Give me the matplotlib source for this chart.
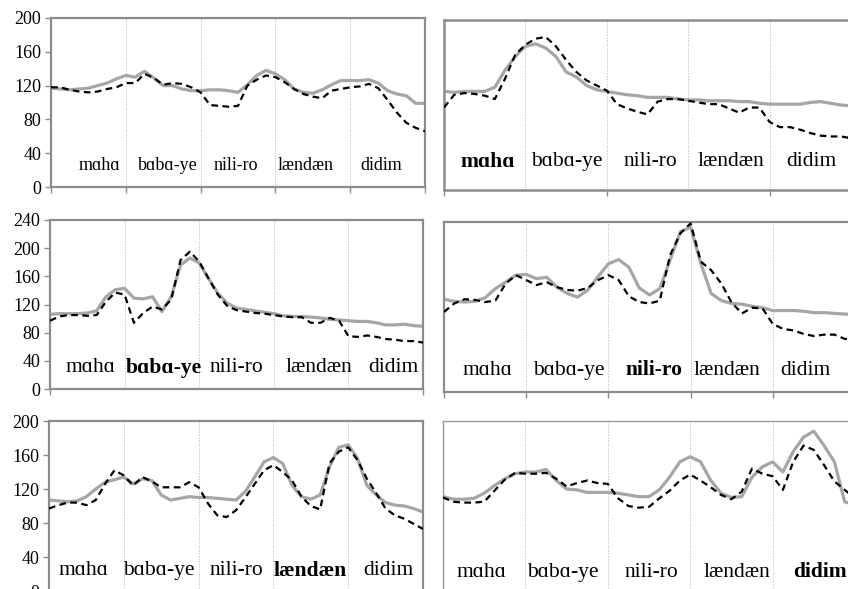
import numpy as np
import matplotlib
matplotlib.use("Agg")
import matplotlib.pyplot as plt

plt.rcParams['font.family'] = ['Liberation Serif', 'DejaVu Serif']

words = ["mɑhɑ", "bɑbɑ-ye", "nili-ro", "lændæn", "didim"]

# pitch contours, one sample every 1/8 of a word (41 samples per sentence)
base_gray = [117, 116, 115, 116, 117, 120, 123, 128, 132, 130, 137, 129, 120, 120, 116, 114, 114,
             115, 115, 114, 112, 121, 132, 138, 134, 127, 116, 112, 111, 115, 121, 126, 126, 126,
             127, 123, 114, 110, 108, 99, 99]
base_dash = [118, 118, 115, 113, 112, 113, 116, 118, 123, 123, 134, 129, 121, 123, 122, 118, 112,
             97, 96, 95, 96, 120, 127, 132, 130, 124, 116, 110, 107, 105, 114, 116, 118, 119, 122,
             117, 103, 88, 76, 70, 66]

maha_gray = [116, 115, 116, 116, 116, 121, 141, 157, 169, 172, 167, 157, 139, 133, 123, 118, 116,
             114, 112, 111, 109, 109, 109, 107, 106, 106, 105, 105, 105, 104, 104, 102, 101, 101,
             101, 101, 103, 104, 102, 100, 99]
maha_dash = [97, 112, 114, 113, 111, 107, 131, 159, 171, 178, 180, 169, 153, 139, 129, 123, 117,
             101, 96, 92, 89, 104, 107, 107, 105, 103, 101, 101, 96, 91, 97, 97, 80, 74, 74, 71,
             67, 64, 63, 63, 61]

baba_gray = [106, 107, 107, 107, 108, 111, 131, 141, 143, 129, 128, 131, 110, 131, 176, 186, 179,
             157, 136, 122, 115, 113, 111, 109, 107, 104, 103, 103, 102, 101, 99, 98, 97, 96, 96,
             94, 91, 91, 92, 90, 89]
baba_dash = [97, 103, 105, 105, 104, 105, 124, 137, 134, 94, 108, 117, 113, 127, 183, 195, 181,
             157, 134, 118, 112, 110, 108, 107, 105, 103, 102, 102, 94, 94, 101, 97, 75, 74, 76,
             74, 71, 70, 68, 68, 66]

nili_gray = [131, 128, 127, 128, 133, 146, 155, 165, 166, 160, 162, 148, 139, 134, 144, 163, 181,
             187, 176, 147, 137, 146, 186, 226, 233, 181, 139, 129, 125, 124, 121, 119, 115, 115,
             115, 114, 112, 112, 111, 110, 110]
nili_dash = [113, 125, 131, 130, 127, 129, 153, 165, 158, 151, 155, 148, 144, 143, 147, 158, 165,
             158, 135, 127, 125, 129, 193, 224, 238, 184, 172, 153, 126, 111, 119, 118, 96, 89, 87,
             82, 79, 81, 81, 75, 73]

lændæn_gray = [107, 106, 105, 106, 111, 120, 128, 131, 134, 126, 132, 130, 113, 107, 109, 111,
               110, 110, 109, 108, 107, 117, 134, 152, 157, 150, 124, 111, 108, 113, 146, 169,
               172, 156, 124, 113, 104, 101, 100, 97, 93]
lændæn_dash = [97, 101, 104, 104, 101, 107, 126, 142, 136, 124, 134, 129, 122, 122, 122, 128,
               122, 103, 89, 87, 95, 110, 126, 142, 148, 140, 130, 111, 100, 96, 150, 164, 169,
               154, 132, 115, 97, 89, 85, 79, 73]

didim_gray = [111, 108, 108, 109, 115, 124, 132, 138, 140, 140, 143, 130, 120, 119, 116, 116, 116,
              115, 113, 111, 111, 119, 134, 152, 158, 152, 130, 115, 110, 111, 134, 146, 152, 140,
              164, 181, 188, 171, 152, 105, 101]
didim_dash = [110, 105, 104, 104, 105, 118, 131, 139, 138, 138, 139, 132, 123, 127, 130, 127, 126,
              109, 100, 98, 99, 109, 118, 130, 137, 130, 122, 113, 108, 117, 144, 138, 135, 119,
              152, 171, 166, 148, 129, 119, 109]

W, H = 848, 589
fig = plt.figure(figsize=(W / 100, H / 100), dpi=100)

# (left, right, top, bottom) in pixels, ymax, focus word, label height, y ticks shown,
# x ticks, word centres, frame width
panels = [
    ((51, 425, 18, 187), 200, None, base_gray, base_dash, 26, True, [0, 1, 2, 3, 4, 5],
     [0.65, 1.56, 2.47, 3.40, 4.41], 1.6),
    ((444, 851, 20, 190), 200, 0, maha_gray, maha_dash, 33, False, [0, 2, 4],
     [0.54, 1.51, 2.54, 3.53, 4.51], 1.8),
    ((50, 423, 220, 389), 240, 1, baba_gray, baba_dash, 30, True, [0, 5],
     [0.54, 1.52, 2.50, 3.60, 4.60], 1.6),
    ((444, 855, 222, 392), 240, 2, nili_gray, nili_dash, 31, False, [0, 1, 2, 3, 4],
     [0.53, 1.52, 2.55, 3.44, 4.40], 1.6),
    ((49, 423, 421, 591), 200, 3, lændæn_gray, lændæn_dash, 24, True, [],
     [0.46, 1.47, 2.51, 3.49, 4.54], 1.6),
    ((443, 855, 421, 591), 200, 4, didim_gray, didim_dash, 22, False, [],
     [0.47, 1.45, 2.53, 3.57, 4.57], 1.0),
]

x = np.arange(41) / 8.0
for (l, r, t, b), ymax, focus, gray, dash, ly, yt, xt, cx, fw in panels:
    ax = fig.add_axes([l / W, 1 - b / H, (r - l) / W, (b - t) / H])
    ax.set_xlim(0, 5)
    ax.set_ylim(0, ymax)
    for xx in [1, 2, 3, 4]:
        ax.axvline(xx, color='#b4b4b4', lw=0.7, ls=':', zorder=1)
    ax.plot(x, gray, color='#a6a6a6', lw=2.3, zorder=2, solid_joinstyle='round')
    ax.plot(x, dash, color='black', lw=1.6, ls=(0, (3, 2)), zorder=3)
    fs = 13 if focus is None else 15.5
    for i, w in enumerate(words):
        ax.text(cx[i], ly, w, ha='center', va='center', fontsize=fs,
                fontweight='bold' if i == focus else 'normal')
    for s in ax.spines.values():
        s.set_color('#8c8c8c' if fw > 1.2 else '#9a9a9a')
        s.set_linewidth(fw)
    ax.set_xticks(xt)
    ax.set_xticklabels([])
    ax.tick_params(axis='x', direction='out', length=4, color='#8c8c8c', width=1)
    if yt:
        ax.set_yticks(np.arange(0, ymax + 1, 40))
        ax.tick_params(axis='y', direction='out', length=4, color='#8c8c8c', width=1,
                       labelsize=13, pad=3)
    else:
        ax.set_yticks([])

fig.savefig("out.png", dpi=100)
